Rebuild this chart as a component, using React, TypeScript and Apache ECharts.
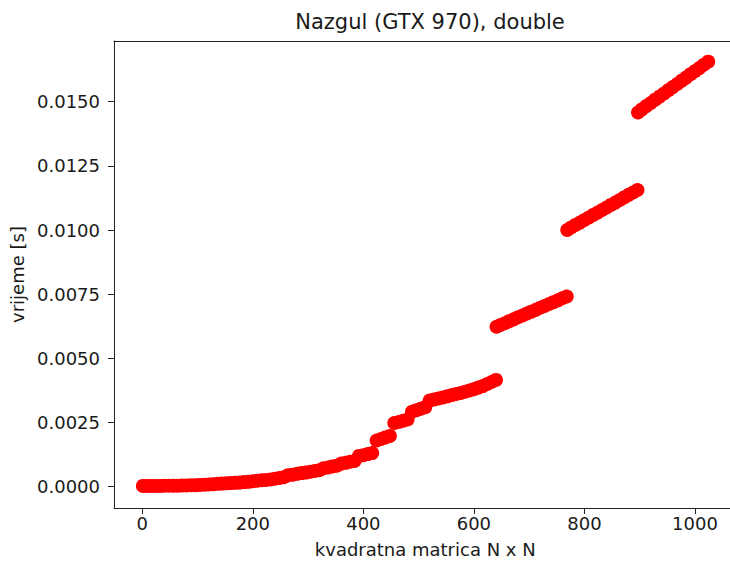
import React, { useEffect, useRef } from "react";
import * as echarts from "echarts";

const nSeg1 = [1, 8, 16, 24, 32, 40, 48, 56, 64, 72, 80, 88, 96, 104, 112, 120, 128, 136, 144, 152, 160, 168, 176, 184, 192, 200, 208, 216, 224, 232, 240, 248, 256, 264, 272, 280, 288, 296, 304, 312, 320, 328, 336, 344, 352, 360, 368, 376, 384, 392, 400, 408, 416, 424, 432, 440, 448, 456, 464, 472, 480, 488, 496, 504, 512, 520, 528, 536, 544, 552, 560, 568, 576, 584, 592, 600, 608, 616, 624, 632, 640];
const tSeg1 = [0.00003, 0.00003, 0.00003, 0.00003, 0.00003, 0.00004, 0.00004, 0.00004, 0.00004, 0.00005, 0.00005, 0.00006, 0.00006, 0.00007, 0.00008, 0.00009, 0.0001, 0.00011, 0.00012, 0.00013, 0.00014, 0.00015, 0.00016, 0.00018, 0.00019, 0.00021, 0.00023, 0.00025, 0.00026, 0.00028, 0.00031, 0.00034, 0.00037, 0.00045, 0.00047, 0.0005, 0.00053, 0.00055, 0.00058, 0.00061, 0.00064, 0.00072, 0.00075, 0.00079, 0.00082, 0.0009, 0.00093, 0.00097, 0.001, 0.0012, 0.00123, 0.00127, 0.00131, 0.0018, 0.00186, 0.00192, 0.00198, 0.00248, 0.00252, 0.00257, 0.00262, 0.00292, 0.00298, 0.00304, 0.0031, 0.00336, 0.0034, 0.00344, 0.00348, 0.00352, 0.00357, 0.00361, 0.00365, 0.0037, 0.00375, 0.0038, 0.00386, 0.00392, 0.004, 0.00408, 0.00416];

const nSeg2 = [641, 648, 656, 664, 672, 680, 688, 696, 704, 712, 720, 728, 736, 744, 752, 760, 768];
const tSeg2 = [0.00623, 0.0063, 0.00637, 0.00645, 0.00652, 0.0066, 0.00667, 0.00675, 0.00682, 0.00689, 0.00697, 0.00704, 0.00712, 0.00719, 0.00726, 0.00734, 0.00741];

const nSeg3 = [769, 776, 784, 792, 800, 808, 816, 824, 832, 840, 848, 856, 864, 872, 880, 888, 896];
const tSeg3 = [0.01, 0.0101, 0.0102, 0.01029, 0.01039, 0.01049, 0.01059, 0.01068, 0.01078, 0.01088, 0.01098, 0.01107, 0.01117, 0.01127, 0.01137, 0.01146, 0.01156];

const nSeg4 = [897, 904, 912, 920, 928, 936, 944, 952, 960, 968, 976, 984, 992, 1000, 1008, 1016, 1024];
const tSeg4 = [0.01458, 0.0147, 0.01483, 0.01495, 0.01508, 0.0152, 0.01532, 0.01545, 0.01557, 0.01569, 0.01582, 0.01594, 0.01607, 0.01619, 0.01631, 0.01644, 0.01656];

const xTicks = [0, 200, 400, 600, 800, 1000];
const yTicks = [0, 0.0025, 0.005, 0.0075, 0.01, 0.0125, 0.015];

const titleText = "Nazgul (GTX 970), double";
const xName = "kvadratna matrica N x N";
const yName = "vrijeme [s]";

function zip(ns: number[], ts: number[]) {
  return ns.map((n, i) => [n, ts[i]]);
}

export default function App() {
  const ref = useRef<HTMLDivElement>(null);
  useEffect(() => {
    if (!ref.current) return;
    const chart = echarts.init(ref.current, undefined, { renderer: "svg" });
    const data = [
      ...zip(nSeg1, tSeg1),
      ...zip(nSeg2, tSeg2),
      ...zip(nSeg3, tSeg3),
      ...zip(nSeg4, tSeg4),
    ];
    const font = "DejaVu Sans";
    const textColor = "#1a1a1a";
    const xMin = -51.2;
    const xMax = 1075.2;
    chart.setOption({
      animation: false,
      backgroundColor: "#ffffff",
      title: {
        text: titleText,
        left: 425,
        top: 6,
        textAlign: "center",
        textStyle: { fontFamily: font, fontSize: 21, fontWeight: "normal", color: textColor },
      },
      grid: {
        left: 114,
        top: 41,
        width: 622.5,
        height: 467,
        show: false,
        containLabel: false,
        outerBoundsMode: "none",
      },
      xAxis: [
        {
          type: "value",
          min: xMin,
          max: xMax,
          name: xName,
          nameLocation: "middle",
          nameGap: 32,
          nameTextStyle: { fontFamily: font, fontSize: 18, color: textColor },
          axisLine: { show: true, onZero: false, lineStyle: { color: "#222", width: 1 } },
          axisTick: { show: true, inside: false, length: 6, customValues: xTicks, lineStyle: { color: "#222" } },
          axisLabel: {
            customValues: xTicks,
            margin: 6,
            fontFamily: font,
            fontSize: 18,
            color: textColor,
            formatter: (v: number) => String(v),
          },
          splitLine: { show: false },
        },
        {
          type: "value",
          position: "top",
          min: xMin,
          max: xMax,
          axisLine: { show: true, onZero: false, lineStyle: { color: "#222", width: 1 } },
          axisTick: { show: false },
          axisLabel: { show: false },
          splitLine: { show: false },
        },
      ],
      yAxis: {
        type: "value",
        min: -0.00083,
        max: 0.017365,
        name: yName,
        nameLocation: "middle",
        nameGap: 80,
        nameTextStyle: { fontFamily: font, fontSize: 18, color: textColor },
        axisLine: { show: true, onZero: false, lineStyle: { color: "#222", width: 1 } },
        axisTick: { show: true, inside: false, length: 6, customValues: yTicks, lineStyle: { color: "#222" } },
        axisLabel: {
          customValues: yTicks,
          margin: 14,
          fontFamily: font,
          fontSize: 18,
          color: textColor,
          formatter: (v: number) => v.toFixed(4),
        },
        splitLine: { show: false },
      },
      series: [
        {
          type: "scatter",
          xAxisIndex: 0,
          data,
          symbol: "circle",
          symbolSize: 14,
          itemStyle: { color: "#ff0000", opacity: 1 },
          clip: false,
        },
      ],
    });
    return () => chart.dispose();
  }, []);
  return (
    <div
      ref={ref}
      style={{ position: "fixed", left: 0, top: 0, width: 730, height: 562, background: "#fff" }}
    />
  );
}
